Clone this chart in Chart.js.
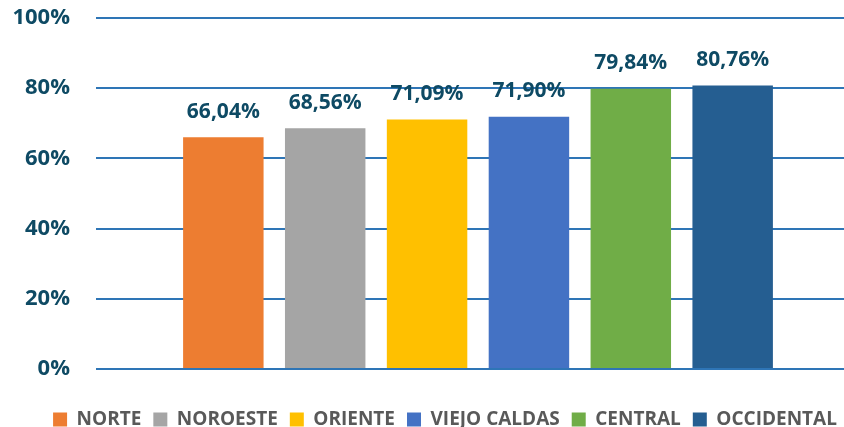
<!DOCTYPE html>
<html>
<head>
<meta charset="utf-8">
<script src="https://cdn.jsdelivr.net/npm/chart.js@4/dist/chart.umd.min.js"></script>
<style>
  html, body { margin: 0; padding: 0; background: #fff; overflow: hidden; }
  #chart-container { width: 860px; height: 427px; position: relative; }
</style>
</head>
<body>
<div id="chart-container"><canvas id="regiones-chart"></canvas></div>
<script>
const regiones = ["NORTE", "NOROESTE", "ORIENTE", "VIEJO CALDAS", "CENTRAL", "OCCIDENTAL"];
const porcentajes = [66.04, 68.56, 71.09, 71.90, 79.84, 80.76];
const colores = ["#ED7D31", "#A5A5A5", "#FFC000", "#4472C4", "#70AD47", "#255E91"];
const yTicks = [0, 20, 40, 60, 80, 100];

const tealText = "#0E4A64";

// draws the value above every bar, like excel data labels
const valueLabels = {
  id: 'valueLabels',
  afterDatasetsDraw(chart) {
    const ctx = chart.ctx;
    ctx.save();
    ctx.font = "bold 21px 'Open Sans'";
    ctx.fillStyle = tealText;
    ctx.textAlign = "center";
    ctx.textBaseline = "bottom";
    chart.data.datasets.forEach((ds, i) => {
      const meta = chart.getDatasetMeta(i);
      meta.data.forEach((bar, j) => {
        const txt = ds.data[j].toFixed(2).replace('.', ',') + '%';
        ctx.fillText(txt, bar.x, bar.y - 15);
      });
    });
    ctx.restore();
  }
};

// the legend in the original sits a bit right of the canvas center
const nudgeLegend = {
  id: 'nudgeLegend',
  afterLayout(chart) {
    if (!chart.legend) return;
    chart.legend.left += 15;
    chart.legend.right += 15;
  }
};

new Chart(document.getElementById("regiones-chart"), {
  type: 'bar',
  data: {
    labels: [""],
    datasets: regiones.map((r, i) => {
      return {
        label: r,
        data: [porcentajes[i]],
        backgroundColor: colores[i],
        borderWidth: 0,
        barPercentage: 0.79,
        categoryPercentage: 0.8
      }
    })
  },
  options: {
    responsive: true,
    maintainAspectRatio: false,
    animation: false,
    layout: { padding: { top: 18, bottom: -12, left: 0, right: 0 } },
    plugins: {
      tooltip: { enabled: false },
      legend: {
        position: 'bottom',
        labels: {
          boxWidth: 14,
          boxHeight: 14,
          padding: 12,
          color: "#595959",
          font: { family: "'Open Sans'", size: 19, weight: 'bold' }
        }
      }
    },
    scales: {
      x: {
        grid: { display: false },
        border: { display: false },
        ticks: { display: false },
        afterFit: axis => { axis.height = 29 }
      },
      y: {
        min: 0,
        max: 100,
        afterBuildTicks: axis => { axis.ticks = yTicks.map(v => ({ value: v })) },
        afterFit: axis => {
          axis.width = 96;
          axis.paddingTop = 0;
          axis.paddingBottom = 0;
        },
        border: { display: false },
        grid: { color: "#2E75B6", lineWidth: 2, drawTicks: false },
        ticks: {
          padding: 26,
          color: tealText,
          font: { family: "'Open Sans'", size: 22, weight: 'bold' },
          callback: v => v + '%'
        }
      }
    }
  },
  plugins: [valueLabels, nudgeLegend]
});
</script>
</body>
</html>
